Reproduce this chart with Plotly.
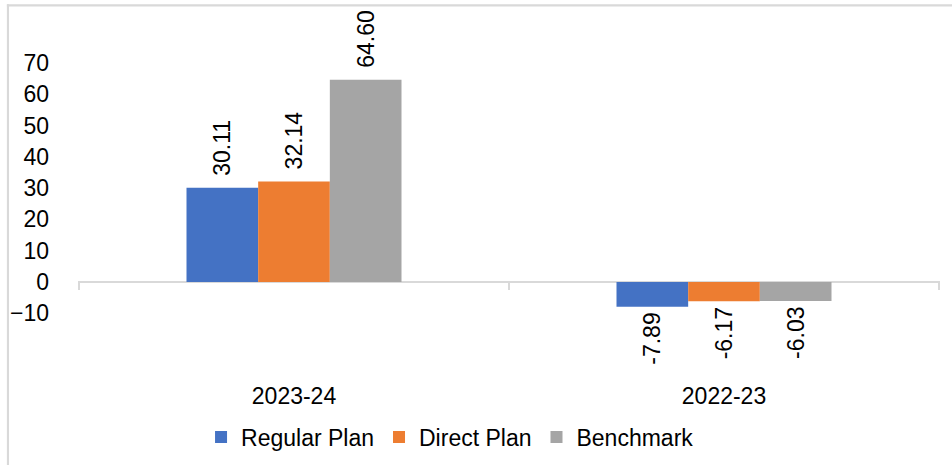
import plotly.graph_objects as go

categories = ["2023-24", "2022-23"]
series_names = ["Regular Plan", "Direct Plan", "Benchmark"]
regular_plan = [30.11, -7.89]
direct_plan = [32.14, -6.17]
benchmark = [64.60, -6.03]
series_values = [regular_plan, direct_plan, benchmark]
colors = ["#4472C4", "#ED7D31", "#A5A5A5"]
y_ticks = [-10, 0, 10, 20, 30, 40, 50, 60, 70]

FONT = "Arial, 'Liberation Sans', sans-serif"
FS = 23

fig = go.Figure()
for name, vals, col in zip(series_names, series_values, colors):
    fig.add_trace(go.Bar(x=categories, y=vals, name=name, marker=dict(color=col, line=dict(width=0))))

# data labels as rotated annotations
bar_px = 72
offsets = [-bar_px, 0, bar_px]
for vals, off in zip(series_values, offsets):
    for c, v in zip(categories, vals):
        fig.add_annotation(
            x=c, y=v, xref="x", yref="y", text=f"{v:.2f}", showarrow=False,
            textangle=-90, xshift=off,
            yanchor="bottom" if v >= 0 else "top",
            yshift=10 if v >= 0 else -4,
            font=dict(family=FONT, size=FS, color="black"),
        )

# category boundary tick marks on the zero line
for xb in [-0.5, 0.5, 1.5]:
    fig.add_shape(type="line", xref="x", yref="y", x0=xb, x1=xb,
                  ysizemode="pixel", yanchor=0, y0=0, y1=-8,
                  line=dict(color="#D9D9D9", width=2))

# chart border (top and left edges visible), drawn as thin filled strips
fig.add_shape(type="rect", xref="paper", yref="paper",
              x0=-0.0825, x1=1.05, y0=1.0095, y1=1.0155,
              fillcolor="#D9D9D9", line=dict(width=0), layer="above")
fig.add_shape(type="rect", xref="paper", yref="paper",
              x0=-0.0825, x1=-0.0800, y0=-0.3, y1=1.0155,
              fillcolor="#D9D9D9", line=dict(width=0), layer="above")

fig.update_layout(
    width=952, height=465,
    margin=dict(l=78, r=12, t=10, b=85, autoexpand=False),
    paper_bgcolor="white", plot_bgcolor="white",
    barmode="group", bargap=0.5, bargroupgap=0,
    font=dict(family=FONT, size=FS, color="black"),
    showlegend=True,
    legend=dict(orientation="h", x=0.4316, xanchor="center", y=-0.154, yanchor="middle",
                font=dict(family=FONT, size=FS, color="black"), itemwidth=30),
    xaxis=dict(showgrid=False, showline=False, ticks="", zeroline=False, automargin=False,
               tickfont=dict(family=FONT, size=FS, color="black")),
    yaxis=dict(range=[-31.3, 86.9], tickvals=y_ticks, showgrid=False, showline=False,
               zeroline=True, zerolinecolor="#D9D9D9", zerolinewidth=2, automargin=False,
               ticks="", ticklabelstandoff=28,
               tickfont=dict(family=FONT, size=FS, color="black")),
)

fig.write_html("out.html", config={"displayModeBar": False},
               post_script="document.body.style.margin='0';")
